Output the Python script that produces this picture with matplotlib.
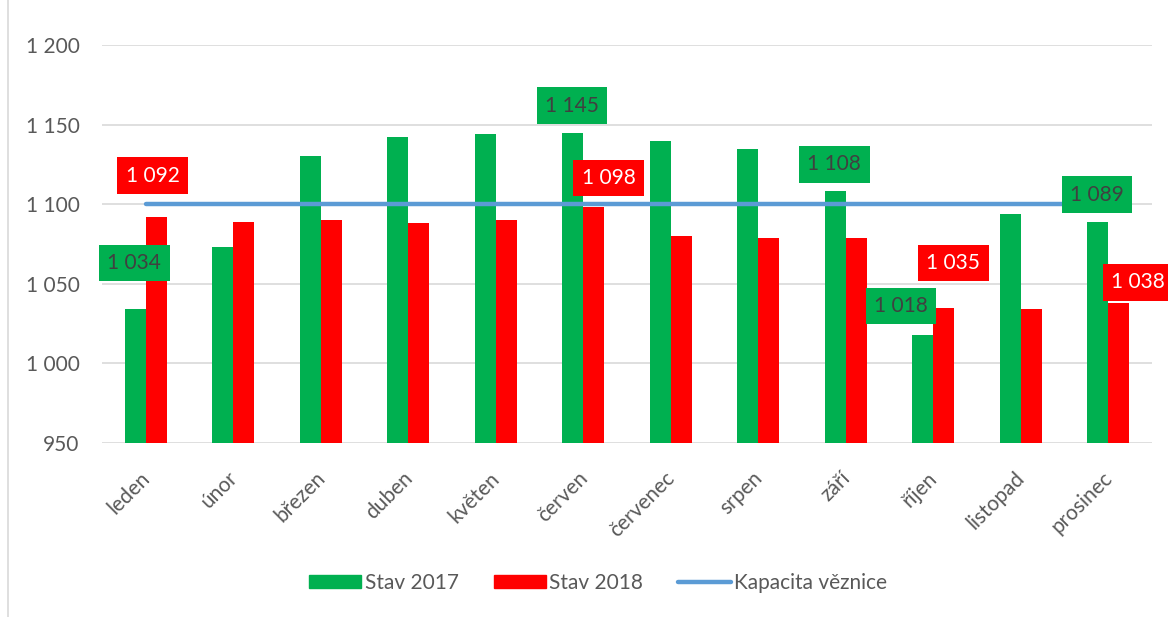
import matplotlib.pyplot as plt
import matplotlib.transforms as mtransforms
import numpy as np
from matplotlib.lines import Line2D
from matplotlib.patches import Patch

plt.rcParams['font.family'] = ['Lato', 'DejaVu Sans']

# data
months = ['leden', 'únor', 'březen', 'duben', 'květen', 'červen',
          'červenec', 'srpen', 'září', 'říjen', 'listopad', 'prosinec']
stav_2017 = [1034, 1073, 1130, 1142, 1144, 1145, 1140, 1135, 1108, 1018, 1094, 1089]
stav_2018 = [1092, 1089, 1090, 1088, 1090, 1098, 1080, 1079, 1079, 1035, 1034, 1038]
kapacita = [1100] * 12

# which points carry a label, with offset of the label centre (x in categories, y in values)
labels_2017 = {0: (-0.13, 29), 5: (-0.13, 17), 8: (-0.13, 17), 9: (-0.37, 18), 11: (-0.13, 17)}
labels_2018 = {0: (0.08, 26), 5: (0.29, 18.5), 9: (0.23, 28), 11: (0.34, 13)}

def fmt(v):
    return f"{v:,}".replace(",", " ")

fig = plt.figure(figsize=(11.68, 6.17), dpi=100)
ax = fig.add_axes([0.0873, 0.282, 0.899, 0.645])

x = np.arange(len(months))
w = 0.24
green = '#00b050'
red = '#ff0000'
blue = '#5b9bd5'

ax.bar(x - w / 2, stav_2017, width=w, color=green, zorder=2)
ax.bar(x + w / 2, stav_2018, width=w, color=red, zorder=2)
ax.plot(x, kapacita, color=blue, lw=3.2, solid_capstyle='round', zorder=3)

ax.set_ylim(950, 1200)
ax.set_xlim(-0.5, 11.5)
ax.set_yticks(range(950, 1201, 50))
ax.set_yticklabels([fmt(v) for v in range(950, 1201, 50)])
ax.yaxis.grid(True, color='#d9d9d9', lw=1.2)
ax.set_axisbelow(True)
for s in ax.spines.values():
    s.set_visible(False)
ax.tick_params(axis='both', length=0, labelsize=15, labelcolor='#595959')
ax.tick_params(axis='y', pad=16)
ax.tick_params(axis='x', pad=18)
ax.set_xticks(x)
ax.set_xticklabels(months, rotation=45, ha='right', rotation_mode='anchor')
shift = mtransforms.ScaledTranslation(-6 / 100, 0, fig.dpi_scale_trans)
for lab in ax.get_xticklabels():
    lab.set_transform(lab.get_transform() + shift)

for i, (dx, dy) in labels_2017.items():
    ax.text(i + dx, stav_2017[i] + dy, fmt(stav_2017[i]), ha='center', va='center',
            fontsize=15, color='#404040', zorder=5, clip_on=False,
            bbox=dict(boxstyle='square,pad=0.4', fc=green, ec='none'))
for i, (dx, dy) in labels_2018.items():
    ax.text(i + dx, stav_2018[i] + dy, fmt(stav_2018[i]), ha='center', va='center',
            fontsize=15, color='white', zorder=5, clip_on=False,
            bbox=dict(boxstyle='square,pad=0.4', fc=red, ec='none'))

handles = [Patch(color=green, label='Stav 2017'),
           Patch(color=red, label='Stav 2018'),
           Line2D([0], [0], color=blue, lw=3.2, solid_capstyle='round', label='Kapacita věznice')]
leg = fig.legend(handles=handles, loc='center', bbox_to_anchor=(0.512, 0.055), ncol=3,
                 frameon=False, fontsize=15, handlelength=2.5, handleheight=0.6,
                 columnspacing=1.7, handletextpad=0.15)
for t in leg.get_texts():
    t.set_color('#595959')

# outer chart frame (only left edge visible)
fig.add_artist(Line2D([0.007, 0.007], [0, 1], color='#d9d9d9', lw=1.2))

fig.savefig('out.png', dpi=100)
